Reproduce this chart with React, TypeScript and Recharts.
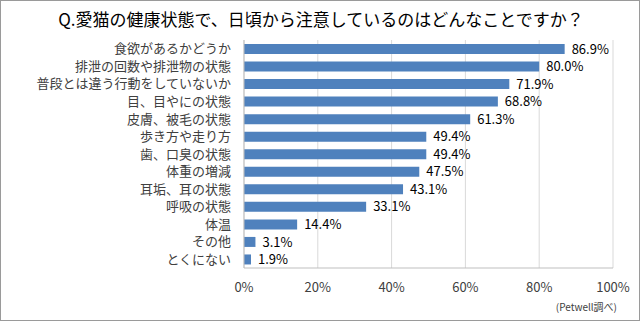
import { BarChart, Bar, XAxis, YAxis, CartesianGrid, LabelList } from 'recharts';

const categories = [
  '食欲があるかどうか',
  '排泄の回数や排泄物の状態',
  '普段とは違う行動をしていないか',
  '目、目やにの状態',
  '皮膚、被毛の状態',
  '歩き方や走り方',
  '歯、口臭の状態',
  '体重の増減',
  '耳垢、耳の状態',
  '呼吸の状態',
  '体温',
  'その他',
  'とくにない',
];

const percentages = [86.9, 80.0, 71.9, 68.8, 61.3, 49.4, 49.4, 47.5, 43.1, 33.1, 14.4, 3.1, 1.9];

const xTicks = [0, 20, 40, 60, 80, 100];

const title = 'Q.愛猫の健康状態で、日頃から注意しているのはどんなことですか？';
const source = '(Petwell調べ)';

const data = categories.map((name, i) => ({ name, value: percentages[i] }));

const font = '"Noto Sans CJK JP", "Noto Sans", sans-serif';

export default function App() {
  return (
    <div
      style={{
        position: 'absolute',
        left: 0,
        top: 0,
        width: 640,
        height: 321,
        boxSizing: 'border-box',
        border: '1px solid #9a9a9a',
        background: '#fff',
        fontFamily: font,
      }}
    >
      <div
        style={{
          position: 'absolute',
          left: 0,
          top: 6,
          width: 640,
          textAlign: 'center',
          fontSize: 17,
          color: '#000',
          lineHeight: '24px',
        }}
      >
        {title}
      </div>
      <div style={{ position: 'absolute', left: -1, top: -1 }}>
        <BarChart
          width={640}
          height={321}
          data={data}
          layout="vertical"
          margin={{ top: 40, right: 27, bottom: 23, left: 0 }}
        >
          <CartesianGrid horizontal={false} stroke="#d9d9d9" />
          <XAxis
            type="number"
            domain={[0, 100]}
            ticks={xTicks}
            tickFormatter={(v) => `${v}%`}
            tick={{ fontSize: 13, fill: '#404040', fontFamily: font }}
            tickLine={false}
            axisLine={{ stroke: '#bfbfbf' }}
            tickMargin={9}
            height={30}
          />
          <XAxis
            xAxisId="top"
            orientation="top"
            type="number"
            domain={[0, 100]}
            tick={false}
            tickLine={false}
            axisLine={{ stroke: '#d9d9d9' }}
            height={0}
          />
          <YAxis
            type="category"
            dataKey="name"
            width={244}
            tick={{ fontSize: 13, fill: '#404040', fontFamily: font }}
            tickLine={false}
            axisLine={{ stroke: '#bfbfbf' }}
            tickMargin={7}
            interval={0}
          />
          <Bar dataKey="value" fill="#4f81bd" barSize={10} isAnimationActive={false}>
            <LabelList
              dataKey="value"
              position="right"
              offset={7}
              formatter={(v: number) => `${v.toFixed(1)}%`}
              style={{ fontSize: 13, fill: '#000', fontFamily: font }}
            />
          </Bar>
        </BarChart>
      </div>
      <div
        style={{
          position: 'absolute',
          right: 22,
          top: 298,
          fontSize: 10,
          color: '#404040',
        }}
      >
        {source}
      </div>
    </div>
  );
}
